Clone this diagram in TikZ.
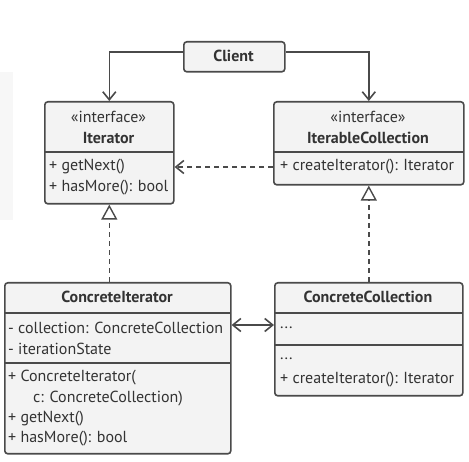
\documentclass[tikz,border=0pt]{standalone}
\usepackage{fontspec}
\setmainfont{PT Sans}
\usetikzlibrary{arrows.meta,calc}
\definecolor{ln}{HTML}{4A4A4A}
\definecolor{bx}{HTML}{F3F3F3}
\definecolor{tx}{HTML}{333333}
\tikzset{
  box/.style={draw=ln, fill=bx, line width=1.6pt, rounded corners=3pt, inner sep=0pt, anchor=north west},
  sep/.style={draw=ln, line width=1.6pt},
  conn/.style={draw=ln, line width=1.6pt},
  lbl/.style={inner sep=0pt, anchor=west, text=tx, font=\fontsize{16}{19}\selectfont},
  ttl/.style={inner sep=0pt, anchor=center, text=tx, font=\fontsize{16}{19}\selectfont},
  opena/.style={-{Straight Barb[length=8pt,width=13pt,line width=1.6pt]}},
  real/.style={-{Triangle[open,length=15pt,width=16pt,line width=1.4pt,fill=white]}},
  dsh/.style={dash pattern=on 5pt off 4pt}
}
\begin{document}
\begin{tikzpicture}[x=1pt,y=-1pt]
\useasboundingbox (0,0) rectangle (469,462);
\fill[fill=black!3] (0,72) rectangle (13,220);
% Client
\node[box, minimum width=101pt, minimum height=30pt] (client) at (183,41) {};
\node[ttl] (clientt) at (233.5,56) {\bfseries Client};
% Iterator
\node[box, minimum width=129pt, minimum height=102pt] (iter) at (44,101) {};
\draw[sep] (44,152) -- (173,152);
\node[ttl] (it1) at (108.5,117) {«interface»};
\node[ttl] (it2) at (108.5,138) {\bfseries Iterator};
\node[lbl] (it3) at (49,167) {+ getNext()};
\node[lbl] (it4) at (49,188) {+ hasMore(): bool};
% IterableCollection
\node[box, minimum width=190pt, minimum height=83pt] (ic) at (273,101) {};
\draw[sep] (273,152) -- (463,152);
\node[ttl] (ic1) at (368,117) {«interface»};
\node[ttl] (ic2) at (368,138) {\bfseries IterableCollection};
\node[lbl] (ic3) at (280,167) {+ createIterator(): Iterator};
% ConcreteIterator
\node[box, minimum width=226pt, minimum height=171pt] (ci) at (4,282) {};
\draw[sep] (4,313) -- (230,313);
\draw[sep] (4,363) -- (230,363);
\node[ttl] (ci1) at (117,297) {\bfseries ConcreteIterator};
\node[lbl] (ci2) at (8,328) {- collection: ConcreteCollection};
\node[lbl] (ci3) at (8,349) {- iterationState};
\node[lbl] (ci4) at (8,378) {+ ConcreteIterator(};
\node[lbl] (ci5) at (33,399) {c: ConcreteCollection)};
\node[lbl] (ci6) at (8,419) {+ getNext()};
\node[lbl] (ci7) at (8,439) {+ hasMore(): bool};
% ConcreteCollection
\node[box, minimum width=188pt, minimum height=113pt] (cc) at (274,282) {};
\draw[sep] (274,313) -- (462,313);
\draw[sep] (274,345) -- (462,345);
\node[ttl] (cc1) at (368,297) {\bfseries ConcreteCollection};
\node[lbl] (cc2) at (280,328) {...};
\node[lbl] (cc3) at (280,359) {...};
\node[lbl] (cc4) at (280,380) {+ createIterator(): Iterator};
\coordinate (dbl) at (0,325);
% connectors
\draw[conn,opena] ([yshift=5pt]client.west) -| (iter.north);
\draw[conn,opena] ([yshift=5pt]client.east) -| (ic.north);
\draw[conn,dsh,opena] (ic.west |- ic3) -- (iter.east |- ic3);
\draw[conn,dsh,real] (ci.north -| iter.south) -- (iter.south);
\draw[conn,dsh,real] (cc.north) -- (ic.south);
\draw[conn,{Straight Barb[length=8pt,width=13pt,line width=1.6pt]}-{Straight Barb[length=8pt,width=13pt,line width=1.6pt]}] (ci.east |- dbl) -- (cc.west |- dbl);
\end{tikzpicture}
\end{document}
